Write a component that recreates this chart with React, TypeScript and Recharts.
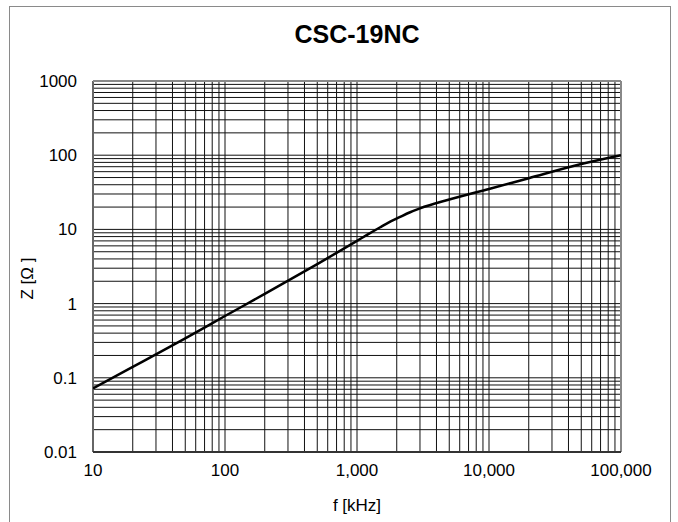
import React from "react";
import { LineChart, Line, XAxis, YAxis, ReferenceLine, Label } from "recharts";

const freqKHz = [10, 20, 50, 100, 200, 500, 1000, 1200, 1500, 1800, 2100, 2500, 3000, 5000, 10000, 20000, 50000, 100000];
const impedance = [0.072, 0.14, 0.34, 0.68, 1.35, 3.4, 7.0, 8.5, 10.7, 12.8, 14.6, 16.9, 19.2, 25.3, 35, 49, 76, 100];

const xTicks = [10, 100, 1000, 10000, 100000];
const yTicks = [0.01, 0.1, 1, 10, 100, 1000];
const multipliers = [1, 2, 3, 4, 5, 6, 7, 8, 9];

const data = freqKHz.map((f, i) => ({ f, z: impedance[i] }));

const xGrid: number[] = [];
xTicks.slice(0, -1).forEach((d) => multipliers.forEach((m) => xGrid.push(d * m)));
xGrid.push(xTicks[xTicks.length - 1]);
const yGrid: number[] = [];
yTicks.slice(0, -1).forEach((d) => multipliers.forEach((m) => yGrid.push(parseFloat((d * m).toPrecision(3)))));
yGrid.push(yTicks[yTicks.length - 1]);

const FONT = "'Liberation Sans', Arial, sans-serif";

const fmtX = (v: number) => v.toLocaleString("en-US");
const fmtY = (v: number) => String(v);

export default function App() {
  return (
    <div style={{ position: "absolute", left: 0, top: 0, width: 678, height: 522, overflow: "hidden", background: "#fff" }}>
      <div style={{ position: "absolute", left: 9, top: 6, width: 660, height: 540, border: "1px solid #8a8a8a" }} />
      <div style={{ position: "absolute", left: 0, top: 20, width: 714, textAlign: "center", fontFamily: FONT, fontWeight: "bold", fontSize: 25, color: "#000" }}>
        CSC-19NC
      </div>
      <div style={{ position: "absolute", left: 0, top: 0 }}>
        <LineChart width={678} height={522} data={data} margin={{ top: 81, right: 57, left: 0, bottom: 0 }}>
          <XAxis
            dataKey="f"
            type="number"
            scale="log"
            domain={[10, 100000]}
            ticks={xTicks}
            tickFormatter={fmtX}
            allowDataOverflow
            height={70}
            axisLine={false}
            tickLine={false}
            tickSize={12}
            tickMargin={0}
            tick={{ fill: "#000", fontSize: 17, fontFamily: FONT }}
            interval={0}
          >
            <Label value="f [kHz]" position="insideBottom" offset={11} fill="#000" style={{ fill: "#000", fontSize: 17, fontFamily: FONT }} />
          </XAxis>
          <YAxis
            dataKey="z"
            type="number"
            scale="log"
            domain={[0.01, 1000]}
            ticks={yTicks}
            tickFormatter={fmtY}
            allowDataOverflow
            width={93}
            axisLine={false}
            tickLine={false}
            tickSize={16}
            tickMargin={0}
            tick={{ fill: "#000", fontSize: 17, fontFamily: FONT }}
            interval={0}
          >
            <Label value="Z [Ω ]" angle={-90} position="insideLeft" offset={27} dy={12} fill="#000" style={{ fill: "#000", fontSize: 17, fontFamily: FONT, textAnchor: "middle" }} />
          </YAxis>
          {yGrid.map((v) => (
            <ReferenceLine key={"y" + v} y={v} stroke="#111" strokeWidth={1} />
          ))}
          {xGrid.map((v) => (
            <ReferenceLine key={"x" + v} x={v} stroke="#111" strokeWidth={1} />
          ))}
          <ReferenceLine x={10} stroke="#666" strokeWidth={2} />
          <ReferenceLine x={100000} stroke="#888" strokeWidth={2} />
          <ReferenceLine y={1000} stroke="#888" strokeWidth={2} />
          <ReferenceLine y={0.01} stroke="#333" strokeWidth={2} />
          <Line type="monotone" dataKey="z" stroke="#000" strokeWidth={2.5} dot={false} isAnimationActive={false} />
        </LineChart>
      </div>
    </div>
  );
}
